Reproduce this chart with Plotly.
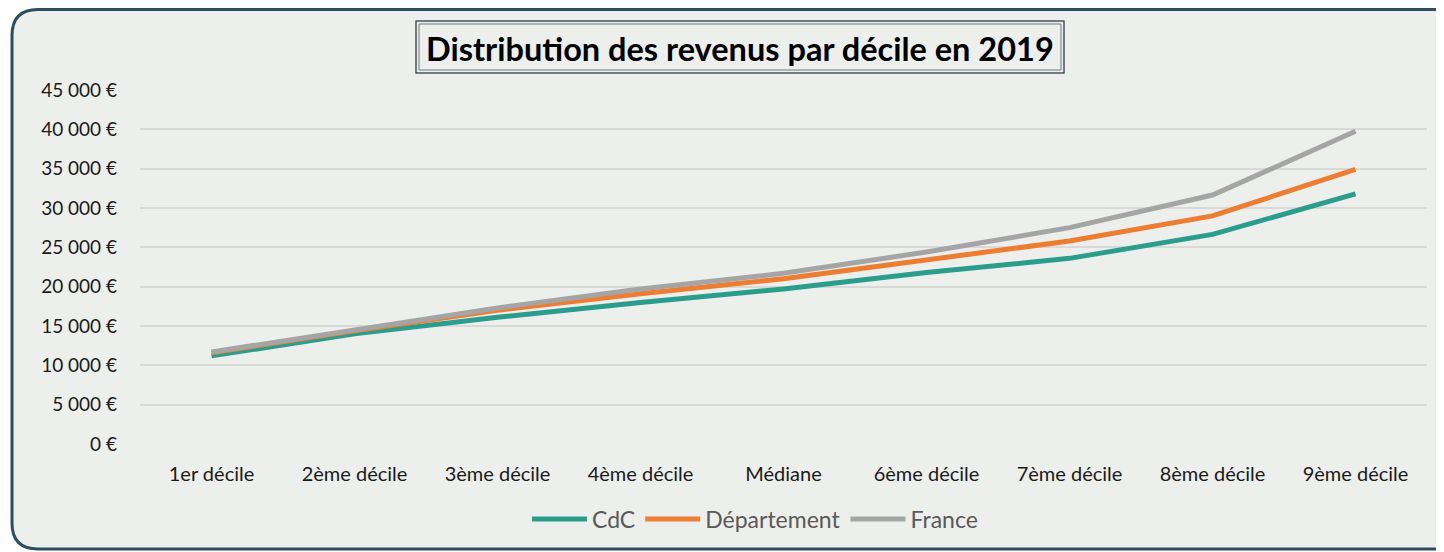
import plotly.graph_objects as go

categories = ["1er décile", "2ème décile", "3ème décile", "4ème décile", "Médiane",
              "6ème décile", "7ème décile", "8ème décile", "9ème décile"]
cdc = [11200, 14000, 16100, 18000, 19700, 21800, 23600, 26650, 31800]
departement = [11600, 14400, 17000, 19100, 21000, 23400, 25800, 29000, 34900]
france = [11700, 14500, 17300, 19700, 21700, 24400, 27500, 31650, 39750]

series_names = ["CdC", "Département", "France"]
series_colors = ["#2A9D8C", "#ED7D31", "#A5A5A5"]

W, H = 1444, 552
OFF = 8  # page body margin
# plot area in page pixels: x 140..1427, y 90..444
L, T = 140 - OFF, 90 - OFF
R = W - (1427 - OFF)
B = H - (444 - OFF)
PW, PH = W - L - R, H - T - B


def px(x):
    return (x - OFF - L) / PW


def py(y):
    return (T + PH - (y - OFF)) / PH


fig = go.Figure()
for name, vals, col in zip(series_names, [cdc, departement, france], series_colors):
    fig.add_trace(go.Scatter(x=categories, y=vals, name=name, mode="lines",
                             line=dict(color=col, width=5)))

# rounded frame
x0, x1, y0, y1 = px(12), px(1470), py(9.5), py(549)
rx, ry = 26 / PW, 26 / PH
path = (f"M {x0+rx},{y0} L {x1-rx},{y0} Q {x1},{y0} {x1},{y0-ry} "
        f"L {x1},{y1+ry} Q {x1},{y1} {x1-rx},{y1} L {x0+rx},{y1} "
        f"Q {x0},{y1} {x0},{y1+ry} L {x0},{y0-ry} Q {x0},{y0} {x0+rx},{y0} Z")
shapes = [dict(type="path", xref="paper", yref="paper", path=path,
               fillcolor="#EDEFEC", line=dict(color="#2B4F5E", width=3), layer="below"),
          dict(type="rect", xref="paper", yref="paper", x0=px(416), x1=px(1064),
               y0=py(21), y1=py(73), line=dict(color="#4A555B", width=1.5), layer="below"),
          dict(type="rect", xref="paper", yref="paper", x0=px(419), x1=px(1061),
               y0=py(24), y1=py(70), line=dict(color="#6B7A80", width=1), layer="below")]

fig.update_layout(
    width=W, height=H,
    margin=dict(l=L, r=R, t=T, b=B, autoexpand=False),
    paper_bgcolor="white",
    plot_bgcolor="rgba(0,0,0,0)",
    font=dict(family="Lato", size=20, color="#1A1A1A"),
    separators=", ",
    shapes=shapes,
    annotations=[dict(text="<b>Distribution des revenus par décile en 2019</b>",
                      xref="paper", yref="paper", x=px(740), y=py(48),
                      xanchor="center", yanchor="middle", showarrow=False,
                      font=dict(family="Lato", size=32.5, color="#000000"))],
    xaxis=dict(range=[-0.5, 8.5], showgrid=False, showline=False, ticks="",
               ticklabelstandoff=16, automargin=False,
               tickfont=dict(size=20, color="#1A1A1A")),
    yaxis=dict(range=[0, 45000], dtick=5000, tickformat=",d", ticksuffix=" €",
               showgrid=True, gridcolor="#D9D9D9", gridwidth=1.5, zeroline=False,
               showline=False, ticks="", ticklabelstandoff=22, automargin=False,
               tickfont=dict(size=19, color="#1A1A1A")),
    legend=dict(orientation="h", x=px(755), xanchor="center", y=py(519), yanchor="middle",
                bgcolor="rgba(0,0,0,0)", font=dict(size=23, color="#595959"),
                itemwidth=55, tracegroupgap=0),
    showlegend=True,
)

fig.write_html("out.html")
